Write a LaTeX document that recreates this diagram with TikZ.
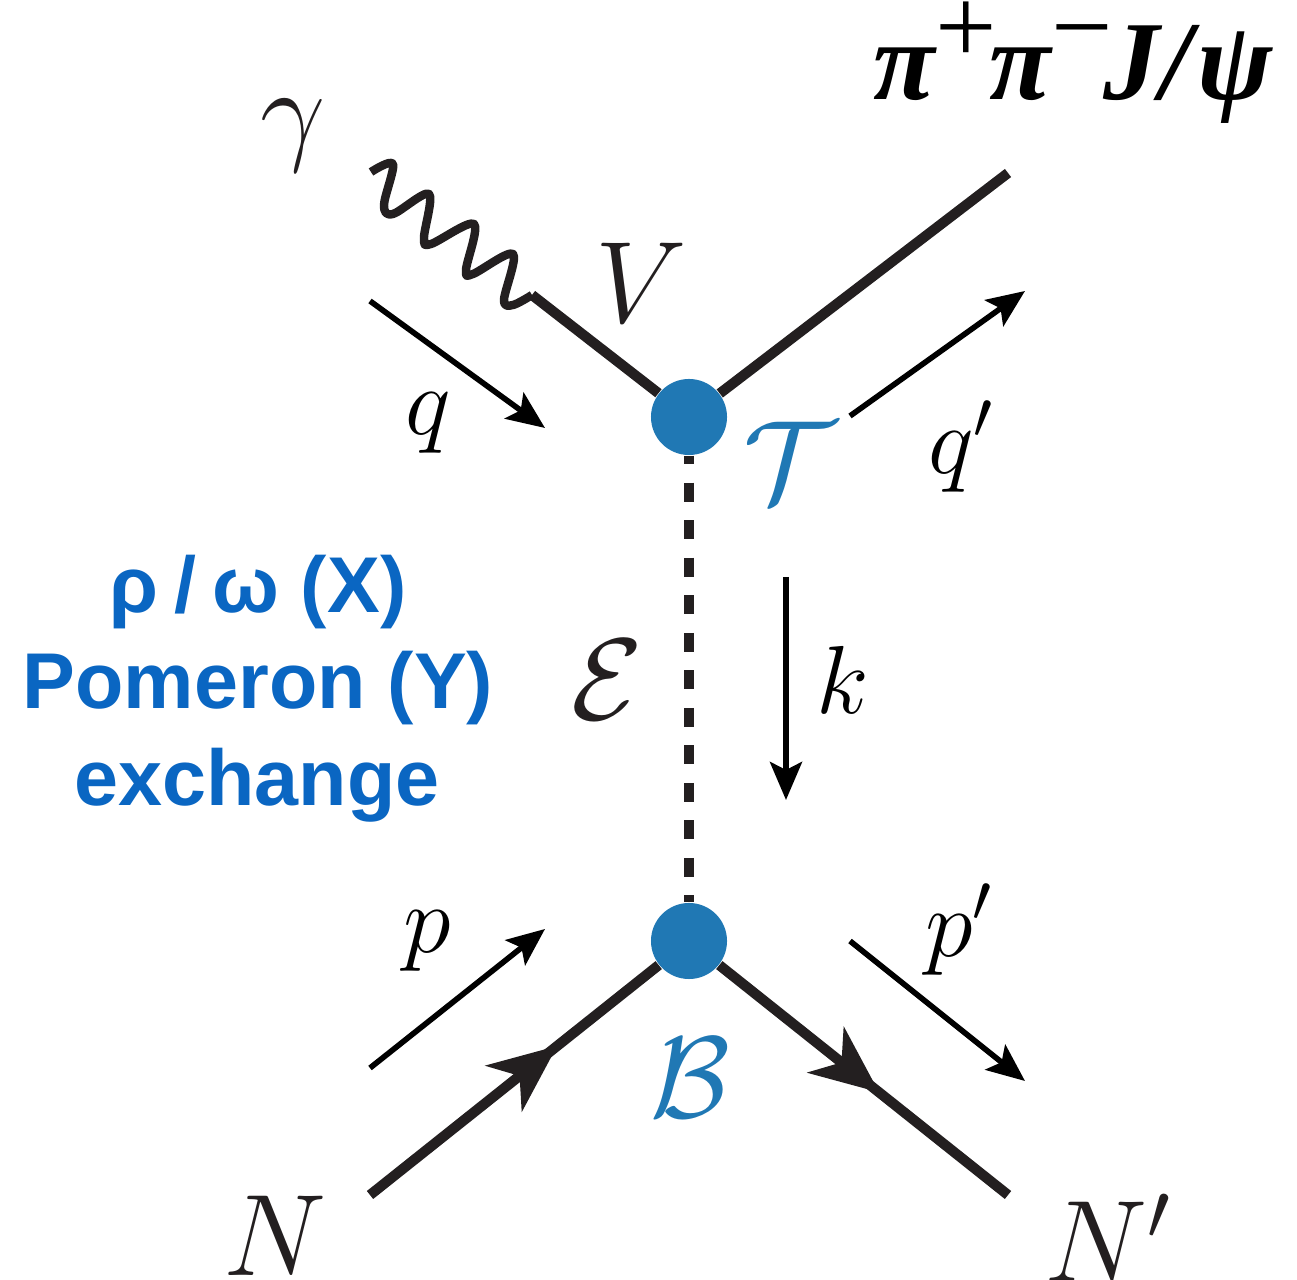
\RequirePackage{fix-cm}
\documentclass[tikz,border=0pt]{standalone}
\usepackage{amsmath,amssymb}
\usepackage{fontspec}
\usepackage{xcolor}
\usepackage{tikz}
\usetikzlibrary{arrows.meta,decorations.markings}
\newfontfamily\blurbfont{Liberation Sans}
\newfontfamily\statefont{Liberation Serif}
\definecolor{vertexblue}{RGB}{32,120,180}
\definecolor{blurbblue}{RGB}{10,102,194}
\definecolor{linedark}{RGB}{35,31,32}
\newcommand{\upch}[1]{\raisebox{0.32em}{\mdseries\upshape\fontsize{31}{34}\selectfont #1}}

\begin{document}
\begin{tikzpicture}[x=0.01cm,y=-0.01cm,
  lab/.style={inner sep=0pt,text=linedark,font=\fontsize{33}{36}\selectfont},
  mlab/.style={inner sep=0pt,text=black,font=\fontsize{27.5}{30}\selectfont},
  vlab/.style={inner sep=0pt,text=vertexblue,font=\fontsize{33}{36}\selectfont},
  blurb/.style={inner sep=0pt,text=blurbblue,font=\blurbfont\bfseries\fontsize{22.5}{26}\selectfont},
  vertex/.style={circle,fill=vertexblue,minimum size=0.76cm,inner sep=0pt},
  leg/.style={draw=linedark,line width=2.9pt},
  mom/.style={draw=black,line width=1.6pt,-{Stealth[length=0.38cm,width=0.32cm,inset=0.08cm]}},
  flow/.style={postaction={decorate},decoration={markings,mark=at position #1 with
    {\arrow{Stealth[length=0.68cm,width=0.58cm,inset=0.2cm]}}}}]
 \useasboundingbox (0,0) rectangle (1297,1280);
 % vertices
 \node[vertex] (TV) at (689,417) {};
 \node[vertex] (BV) at (689,941) {};
 % free ends of the legs
 \coordinate (Gam) at (371,172);
 \coordinate (Vk) at (532,295);
 \coordinate (Out) at (1008,173);
 \coordinate (Nin) at (370,1195);
 \coordinate (Nout) at (1008,1195);
 % legs
 \draw[linedark,line width=2.4pt,line join=round] plot[smooth,tension=0.55] coordinates
   {(Gam) (393,164) (384,205) (393,214) (429,194) (424,238) (431,244) (474,224)
    (466,270) (473,274) (513,254) (504,300) (513,305) (Vk)};
 \draw[leg] (Vk) -- (TV);
 \draw[leg] (TV) -- (Out);
 \draw[leg,flow=0.65,linedark] (Nin) -- (BV);
 \draw[leg,flow=0.555,linedark] (BV) -- (Nout);
 \draw[linedark,line width=2.75pt,dash pattern=on 5.4pt off 5.27pt,dash phase=3pt] (TV) -- (BV);
 % momentum arrows
 \coordinate (q0) at (370,301);
 \coordinate (q1) at (545,428);
 \coordinate (qp0) at (850,416);
 \coordinate (qp1) at (1025,291);
 \coordinate (k0) at (786,577);
 \coordinate (k1) at (786,800);
 \coordinate (p0) at (370,1068);
 \coordinate (p1) at (545,929);
 \coordinate (pp0) at (850,941);
 \coordinate (pp1) at (1025,1081);
 \foreach \a/\b in {q0/q1,qp0/qp1,k0/k1,p0/p1,pp0/pp1}
   \draw[mom] (\a) -- (\b);
 % labels
 \node[lab] (gam) at (293,136) {$\gamma$};
 \node[inner sep=0pt,text=black,anchor=base west,font=\statefont\bfseries\itshape\fontsize{32}{36}\selectfont]
   (pipi) at (873,100) {π\upch{+}\hspace{-0.06em}π\upch{−}\hspace{-0.08em}J/\hspace{0.06em}ψ};
 \node[lab] (V) at (641,283) {$V$};
 \node[mlab] (q) at (428,423) {$q$};
 \node[mlab] (qp) at (961,447) {$q'$};
 \node[lab] (E) at (607,680) {$\mathcal{E}$};
 \node[mlab] (k) at (843,680) {$k$};
 \node[mlab] (p) at (427,941) {$p$};
 \node[mlab] (pp) at (959,930) {$p'$};
 \node[lab] (N) at (275,1236) {$N$};
 \node[lab] (Np) at (1108,1238) {$N'$};
 \node[vlab] (T) at (790,462) {$\mathcal{T}$};
 \node[vlab] (B) at (690,1078) {$\mathcal{B}$};
 \node[blurb] (b1) at (258,592) {ρ\hspace{0.2em}/\hspace{0.2em}ω (X)};
 \node[blurb] (b2) at (258,688) {Pomeron (Y)};
 \node[blurb] (b3) at (257,785) {exchange};
\end{tikzpicture}
\end{document}
